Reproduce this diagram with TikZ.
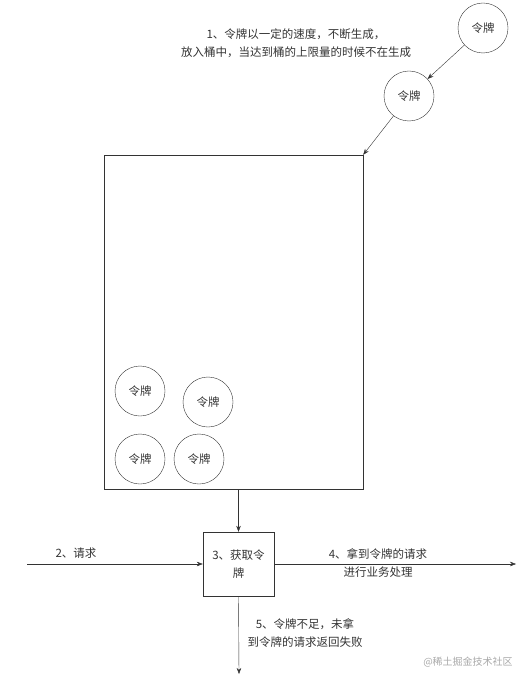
\documentclass[tikz,border=0pt]{standalone}
\usepackage{fontspec}
\setmainfont{Noto Sans CJK SC}
\usetikzlibrary{arrows.meta,positioning}
\definecolor{ink}{HTML}{333333}
\definecolor{faint}{HTML}{A8A8A8}
\tikzset{>={Stealth[length=6pt,width=4.5pt]},line width=.8pt,
  every node/.style={font=\fontsize{11.5}{18}\selectfont,text=ink},
  token/.style={circle,draw=ink,minimum size=50pt,inner sep=0pt},
  bucketbox/.style={draw=ink,minimum width=259pt,minimum height=334pt,inner sep=0pt},
  gate/.style={draw=ink,minimum width=71pt,minimum height=64pt,inner sep=1pt,align=center},
  flow/.style={->,draw=ink},
  note/.style={align=center,inner sep=0pt}}

\begin{document}
\begin{tikzpicture}[x=1pt,y=-1pt]
\useasboundingbox (0,0) rectangle (525,676);
% tokens being produced
\node[token] (tokA) at (483,28) {令牌};
\node[token] (tokB) at (409,96) {令牌};
\node[note] (genlbl) at (296,43) {1、令牌以一定的速度，不断生成，\\放入桶中，当达到桶的上限量的时候不在生成};
% the bucket and what it holds
\node[bucketbox] (bucket) at (233.5,322) {};
\node[token] (tok1) at (140,391) {令牌};\node[token] (tok2) at (208,402) {令牌};
\node[token] (tok3) at (140,459) {令牌};\node[token] (tok4) at (199,459) {令牌};
\draw[flow] (tokA) -- (tokB);
\draw[flow] (tokB) -- (bucket.north east);
% taking a token
\node[gate] (gate) at (238.5,564) {3、获取令\\牌};
\draw[flow] (gate.north |- bucket.south) -- (gate.north);
\coordinate (req) at (27,564);\coordinate (pass) at (516,564);\coordinate (fail) at (239,674);
\draw[flow] (req) -- (gate.west);
\draw[flow] (gate.east) -- (pass);
\draw[flow] (gate.south) -- (fail);
\node[note] (reqlbl) at (76,553) {2、请求};
\node[note] (passlbl) at (378,563) {4、拿到令牌的请求\\进行业务处理};
\node[note] (faillbl) at (305,633) {5、令牌不足，未拿\\到令牌的请求返回失败};
\node[note,font=\fontsize{10}{12}\selectfont,text=faint] (mark) at (468,662) {@稀土掘金技术社区};
\end{tikzpicture}
\end{document}
